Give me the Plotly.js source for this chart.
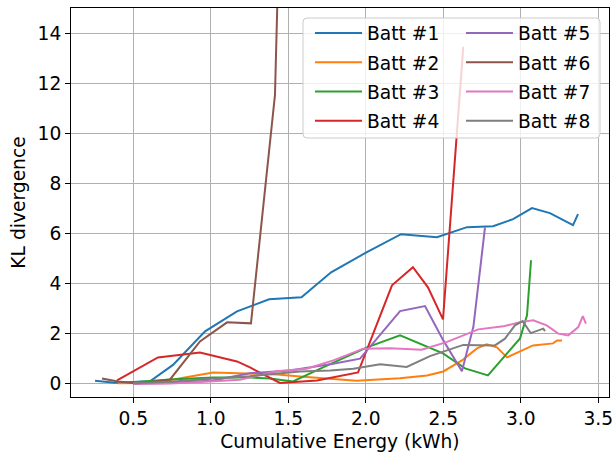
<!DOCTYPE html>
<html>
<head>
<meta charset="utf-8">
<script src="https://cdn.plot.ly/plotly-3.0.1.min.js"></script>
<style>html,body{margin:0;padding:0;background:#fff;}#chart{width:615px;height:453px;}</style>
</head>
<body>
<div id="chart"></div>
<script>
// ---- data ----
const names = ["Batt #1","Batt #2","Batt #3","Batt #4","Batt #5","Batt #6","Batt #7","Batt #8"];
const colors = ["#1f77b4","#ff7f0e","#2ca02c","#d62728","#9467bd","#8c564b","#e377c2","#7f7f7f"];

const x1 = [0.253,0.382,0.608,0.756,0.963,1.169,1.376,1.585,1.776,1.995,2.227,2.459,2.653,2.821,2.95,3.072,3.188,3.337,3.369];
const y1 = [0.12,0.04,0.10,0.75,2.09,2.89,3.37,3.45,4.45,5.21,5.97,5.85,6.25,6.29,6.57,7.01,6.81,6.33,6.77];

const x2 = [0.40,0.55,0.74,0.92,1.015,1.23,1.43,1.575,1.75,1.94,2.22,2.395,2.50,2.62,2.717,2.78,2.846,2.911,2.995,3.079,3.208,3.234,3.266];
const y2 = [0.02,0.03,0.15,0.33,0.45,0.41,0.37,0.29,0.21,0.12,0.22,0.33,0.49,0.93,1.41,1.57,1.45,1.05,1.29,1.53,1.61,1.73,1.73];

const x3 = [0.479,0.737,1.015,1.253,1.382,1.53,1.724,2.008,2.221,2.498,2.64,2.788,2.995,3.04,3.066];
const y3 = [0.05,0.17,0.25,0.25,0.21,0.09,0.65,1.45,1.93,1.21,0.61,0.33,1.81,2.73,4.93];

const x4 = [0.395,0.659,0.93,1.169,1.253,1.446,1.685,1.95,2.169,2.304,2.401,2.498,2.629];
const y4 = [0.13,1.05,1.25,0.89,0.65,0.03,0.13,0.45,3.93,4.65,3.85,2.57,13.45];

const x5 = [0.50,0.74,1.016,1.25,1.51,1.79,1.963,2.221,2.382,2.50,2.62,2.694,2.769];
const y5 = [0.0,0.03,0.13,0.42,0.53,0.80,1.0,2.9,3.1,1.73,0.5,2.27,6.24];

const x6 = [0.298,0.401,0.53,0.737,0.93,1.105,1.259,1.414,1.47];
const y6 = [0.21,0.09,0.01,0.17,1.69,2.45,2.41,11.53,25.0];

const x7 = [0.50,0.74,0.93,1.188,1.425,1.618,1.79,1.984,2.156,2.36,2.52,2.726,2.887,2.995,3.08,3.167,3.242,3.306,3.371,3.40,3.42];
const y7 = [0.0,0.01,0.07,0.16,0.50,0.60,0.93,1.40,1.42,1.36,1.66,2.17,2.29,2.46,2.53,2.33,2.0,1.93,2.26,2.70,2.40];

const x8 = [0.50,0.74,1.0,1.25,1.575,1.77,1.92,2.092,2.264,2.414,2.629,2.833,2.898,2.962,3.012,3.064,3.145,3.156];
const y8 = [0.02,0.08,0.20,0.30,0.49,0.53,0.60,0.78,0.67,1.10,1.55,1.53,1.80,2.33,2.50,2.02,2.20,2.10];

const xs = [x1,x2,x3,x4,x5,x6,x7,x8];
const ys = [y1,y2,y3,y4,y5,y6,y7,y8];

const xTicks = [0.5,1.0,1.5,2.0,2.5,3.0,3.5];
const yTicks = [0,2,4,6,8,10,12,14];

const FONT = "DejaVu Sans, sans-serif";
const FS = 18.67;

const traces = names.map((n,i)=>({
  type:"scatter", mode:"lines", name:n,
  x: xs[i], y: ys[i],
  line:{color:colors[i], width:2},
  legend: i < 4 ? "legend" : "legend2",
  legendgroup: "g"+i,
  hoverinfo:"skip"
}));

// plot area geometry (px)
const L=71, R=6, T=8, B=56, W=615, H=453;
const pw = W-L-R, ph = H-T-B;
function px2x(p){return (p-L)/pw;}
function py2y(p){return (H-B-p)/ph;}

// rounded legend frame
const bx0=303, bx1=600, by0=18, by1=138, rr=4;
const rx = rr/pw, ry = rr/ph;
const X0=px2x(bx0), X1=px2x(bx1), Y0=py2y(by1), Y1=py2y(by0);
const framePath = `M ${X0+rx},${Y1} L ${X1-rx},${Y1} Q ${X1},${Y1} ${X1},${Y1-ry} L ${X1},${Y0+ry} Q ${X1},${Y0} ${X1-rx},${Y0} L ${X0+rx},${Y0} Q ${X0},${Y0} ${X0},${Y0+ry} L ${X0},${Y1-ry} Q ${X0},${Y1} ${X0+rx},${Y1} Z`;

const legendCommon = {
  font:{family:FONT, size:FS, color:"#000"},
  bgcolor:"rgba(0,0,0,0)", borderwidth:0,
  xanchor:"left", yanchor:"top",
  tracegroupgap: 2, itemwidth: 47
};

const layout = {
  width:W, height:H,
  margin:{l:L, r:R, t:T, b:B, pad:0},
  paper_bgcolor:"#fff", plot_bgcolor:"#fff",
  font:{family:FONT, size:FS, color:"#000"},
  showlegend:true,
  legend: Object.assign({x:px2x(310), y:py2y(14.3)}, legendCommon),
  legend2: Object.assign({x:px2x(461), y:py2y(14.3)}, legendCommon),
  xaxis:{
    range:[0.098,3.569], tickvals:xTicks, ticktext:xTicks.map(v=>v.toFixed(1)),
    showgrid:true, gridcolor:"#b0b0b0", gridwidth:1,
    zeroline:false, showline:true, linecolor:"#000", linewidth:1, mirror:true,
    ticks:"outside", ticklen:5, tickwidth:1, tickcolor:"#000",
    tickfont:{family:FONT, size:FS, color:"#000"},
    title:{text:"Cumulative Energy (kWh)", font:{family:FONT, size:FS, color:"#000"}, standoff:6}
  },
  yaxis:{
    range:[-0.53,15.0], tickvals:yTicks,
    showgrid:true, gridcolor:"#b0b0b0", gridwidth:1,
    zeroline:false, showline:true, linecolor:"#000", linewidth:1, mirror:true,
    ticks:"outside", ticklen:5, tickwidth:1, tickcolor:"#000",
    tickfont:{family:FONT, size:FS, color:"#000"},
    title:{text:"KL divergence", font:{family:FONT, size:FS, color:"#000"}, standoff:6}
  },
  shapes:[{
    type:"path", xref:"paper", yref:"paper", path:framePath,
    fillcolor:"rgba(255,255,255,0.8)", line:{color:"#cccccc", width:1}, layer:"above"
  }]
};

Plotly.newPlot("chart", traces, layout, {displayModeBar:false, staticPlot:true});
</script>
</body>
</html>
